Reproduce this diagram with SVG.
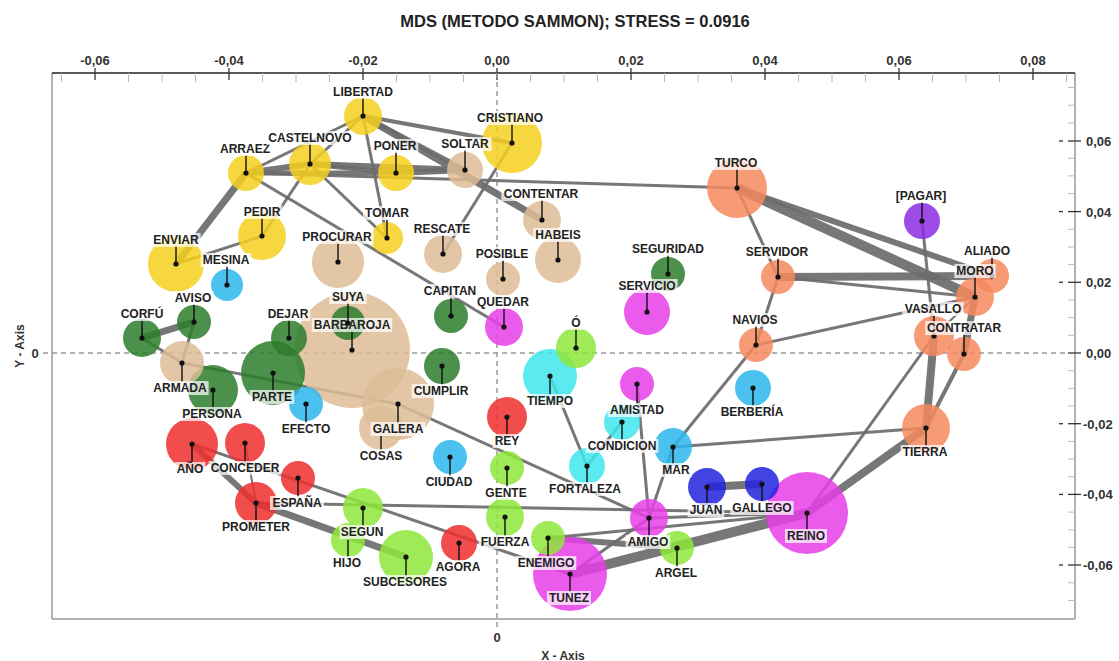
<svg xmlns="http://www.w3.org/2000/svg" width="1119" height="661" viewBox="0 0 1119 661">
<style>
.c{fill-opacity:.85}
.yel{fill:#F4D01E}.tan{fill:#DDBC95}.grn{fill:#2B7D2B}.lbl{fill:#2CB6EC}.cyn{fill:#40E6EE}.mag{fill:#E63EE8}.red{fill:#EF2E2E}.lgr{fill:#8EE63A}.blu{fill:#2222DD}.pur{fill:#8B2BE2}.org{fill:#F68A5E}
#connectors line{stroke:#6b6b6b;stroke-opacity:.92}
.w2{stroke-width:2}.w3{stroke-width:3}.w4{stroke-width:4}.w5{stroke-width:5}.w6{stroke-width:6}.w7{stroke-width:7}.w8{stroke-width:8}.w10{stroke-width:10}
.ptr{stroke:#111;stroke-width:1.4}
.dot{fill:#111}
.lb{fill:#fff;fill-opacity:.72}
.lt{font-family:"Liberation Sans",Arial,sans-serif;font-weight:bold;font-size:12px;fill:#222;text-anchor:middle}
.ax{font-family:"Liberation Sans",Arial,sans-serif;font-weight:bold;font-size:13px;fill:#333}
.mj{stroke:#333;stroke-width:1.3}
.mn{stroke:#bbb;stroke-width:1}
.zero{stroke:#999;stroke-width:1.5;stroke-dasharray:5 4}
</style>
<rect width="1119" height="661" fill="#fff"/>
<text x="575" y="27" font-family="Liberation Sans, Arial, sans-serif" font-weight="bold" font-size="16.5" fill="#222" text-anchor="middle">MDS (METODO SAMMON); STRESS = 0.0916</text>

<g id="axes">
<line x1="52" y1="73" x2="52" y2="619" stroke="#999" stroke-width="1.5"/>
<line x1="52" y1="619" x2="1075" y2="619" stroke="#999" stroke-width="1.5"/>
<line x1="1075" y1="73" x2="1075" y2="619" stroke="#999" stroke-width="1.5"/>
<line x1="52" y1="73" x2="1075" y2="73" stroke="#222" stroke-width="1.5"/>
<g class="mn">
<line x1="61.5" y1="73" x2="61.5" y2="82"/><line x1="128.5" y1="73" x2="128.5" y2="82"/><line x1="162" y1="73" x2="162" y2="82"/><line x1="195.5" y1="73" x2="195.5" y2="82"/><line x1="262.5" y1="73" x2="262.5" y2="82"/><line x1="296" y1="73" x2="296" y2="82"/><line x1="329.5" y1="73" x2="329.5" y2="82"/><line x1="396.5" y1="73" x2="396.5" y2="82"/><line x1="430" y1="73" x2="430" y2="82"/><line x1="463.5" y1="73" x2="463.5" y2="82"/><line x1="530.5" y1="73" x2="530.5" y2="82"/><line x1="564" y1="73" x2="564" y2="82"/><line x1="597.5" y1="73" x2="597.5" y2="82"/><line x1="664.5" y1="73" x2="664.5" y2="82"/><line x1="698" y1="73" x2="698" y2="82"/><line x1="731.5" y1="73" x2="731.5" y2="82"/><line x1="798.5" y1="73" x2="798.5" y2="82"/><line x1="832" y1="73" x2="832" y2="82"/><line x1="865.5" y1="73" x2="865.5" y2="82"/><line x1="932.5" y1="73" x2="932.5" y2="82"/><line x1="966" y1="73" x2="966" y2="82"/><line x1="999.5" y1="73" x2="999.5" y2="82"/><line x1="1066.5" y1="73" x2="1066.5" y2="82"/>
<line x1="1068" y1="87.5" x2="1075" y2="87.5"/><line x1="1068" y1="105.2" x2="1075" y2="105.2"/><line x1="1068" y1="122.9" x2="1075" y2="122.9"/><line x1="1068" y1="158.3" x2="1075" y2="158.3"/><line x1="1068" y1="175.9" x2="1075" y2="175.9"/><line x1="1068" y1="193.6" x2="1075" y2="193.6"/><line x1="1068" y1="229.3" x2="1075" y2="229.3"/><line x1="1068" y1="247" x2="1075" y2="247"/><line x1="1068" y1="264.6" x2="1075" y2="264.6"/><line x1="1068" y1="300" x2="1075" y2="300"/><line x1="1068" y1="317.6" x2="1075" y2="317.6"/><line x1="1068" y1="335.3" x2="1075" y2="335.3"/><line x1="1068" y1="370.7" x2="1075" y2="370.7"/><line x1="1068" y1="388.4" x2="1075" y2="388.4"/><line x1="1068" y1="406" x2="1075" y2="406"/><line x1="1068" y1="441.4" x2="1075" y2="441.4"/><line x1="1068" y1="459" x2="1075" y2="459"/><line x1="1068" y1="476.7" x2="1075" y2="476.7"/><line x1="1068" y1="512.1" x2="1075" y2="512.1"/><line x1="1068" y1="529.8" x2="1075" y2="529.8"/><line x1="1068" y1="547.4" x2="1075" y2="547.4"/><line x1="1068" y1="582.8" x2="1075" y2="582.8"/><line x1="1068" y1="600.5" x2="1075" y2="600.5"/>
</g>
<g class="mj">
<line x1="95" y1="68" x2="95" y2="80"/><line x1="229" y1="68" x2="229" y2="80"/><line x1="363" y1="68" x2="363" y2="80"/><line x1="497" y1="68" x2="497" y2="80"/><line x1="631" y1="68" x2="631" y2="80"/><line x1="765" y1="68" x2="765" y2="80"/><line x1="899" y1="68" x2="899" y2="80"/><line x1="1033" y1="68" x2="1033" y2="80"/>
<line x1="1068" y1="141" x2="1081" y2="141"/><line x1="1068" y1="211.6" x2="1081" y2="211.6"/><line x1="1068" y1="282.3" x2="1081" y2="282.3"/><line x1="1068" y1="353" x2="1081" y2="353"/><line x1="1068" y1="423.7" x2="1081" y2="423.7"/><line x1="1068" y1="494.4" x2="1081" y2="494.4"/><line x1="1068" y1="565" x2="1081" y2="565"/>
<line x1="1059" y1="141" x2="1063" y2="141"/><line x1="1059" y1="211.6" x2="1063" y2="211.6"/><line x1="1059" y1="282.3" x2="1063" y2="282.3"/><line x1="1059" y1="423.7" x2="1063" y2="423.7"/><line x1="1059" y1="494.4" x2="1063" y2="494.4"/><line x1="1059" y1="565" x2="1063" y2="565"/>
</g>
<line class="zero" x1="43" y1="353" x2="1068" y2="353"/>
<line class="zero" x1="497" y1="73" x2="497" y2="628"/>
<g class="ax" text-anchor="middle">
<text x="95" y="65">-0,06</text><text x="229" y="65">-0,04</text><text x="363" y="65">-0,02</text><text x="497" y="65">0,00</text><text x="631" y="65">0,02</text><text x="765" y="65">0,04</text><text x="899" y="65">0,06</text><text x="1033" y="65">0,08</text>
</g>
<g class="ax">
<text x="1086" y="146">0,06</text><text x="1086" y="216.6">0,04</text><text x="1086" y="287.3">0,02</text><text x="1086" y="358">0,00</text><text x="1083" y="428.7">-0,02</text><text x="1083" y="499.4">-0,04</text><text x="1083" y="570">-0,06</text>
<text x="35" y="358" text-anchor="middle">0</text>
<text x="497" y="642" text-anchor="middle">0</text>
<text x="563" y="660" text-anchor="middle" font-size="12">X - Axis</text>
<text x="0" y="0" text-anchor="middle" font-size="12" transform="translate(24 346) rotate(-90)">Y - Axis</text>
</g>
</g>

<g id="connectors">
<line class="w3" x1="363" y1="116" x2="246" y2="173"/>
<line class="w3" x1="363" y1="116" x2="310" y2="164"/>
<line class="w3" x1="363" y1="116" x2="387" y2="238"/>
<line class="w4" x1="363" y1="116" x2="512" y2="143"/>
<line class="w5" x1="363" y1="116" x2="465" y2="170"/>
<line class="w7" x1="363" y1="116" x2="542" y2="220"/>
<line class="w6" x1="246" y1="173" x2="310" y2="164"/>
<line class="w5" x1="246" y1="173" x2="396" y2="173"/>
<line class="w5" x1="310" y1="164" x2="396" y2="173"/>
<line class="w6" x1="310" y1="164" x2="465" y2="170"/>
<line class="w6" x1="396" y1="173" x2="465" y2="170"/>
<line class="w3" x1="246" y1="173" x2="737" y2="188"/>
<line class="w7" x1="246" y1="173" x2="176" y2="264"/>
<line class="w3" x1="246" y1="173" x2="504" y2="327"/>
<line class="w3" x1="310" y1="164" x2="262" y2="236"/>
<line class="w3" x1="310" y1="164" x2="387" y2="238"/>
<line class="w3" x1="262" y1="236" x2="176" y2="264"/>
<line class="w3" x1="512" y1="143" x2="443" y2="254"/>
<line class="w7" x1="142" y1="338" x2="194" y2="322"/>
<line class="w3" x1="142" y1="338" x2="182" y2="363"/>
<line class="w3" x1="194" y1="322" x2="182" y2="363"/>
<line class="w3" x1="182" y1="363" x2="398" y2="404"/>
<line class="w3" x1="398" y1="404" x2="649" y2="518"/>
<line class="w6" x1="192" y1="444" x2="256" y2="503"/>
<line class="w7" x1="256" y1="503" x2="406" y2="557"/>
<line class="w3" x1="192" y1="444" x2="570" y2="574"/>
<line class="w3" x1="256" y1="503" x2="807" y2="513"/>
<line class="w2" x1="245" y1="443" x2="256" y2="503"/>
<line class="w3" x1="550" y1="376" x2="587" y2="466"/>
<line class="w3" x1="587" y1="466" x2="622" y2="422"/>
<line class="w3" x1="637" y1="384" x2="649" y2="518"/>
<line class="w3" x1="673" y1="447" x2="649" y2="518"/>
<line class="w3" x1="673" y1="447" x2="756" y2="345"/>
<line class="w3" x1="673" y1="447" x2="926" y2="428"/>
<line class="w3" x1="570" y1="574" x2="649" y2="518"/>
<line class="w10" x1="570" y1="574" x2="807" y2="513"/>
<line class="w6" x1="548" y1="538" x2="677" y2="548"/>
<line class="w3" x1="548" y1="538" x2="807" y2="513"/>
<line class="w3" x1="649" y1="518" x2="807" y2="513"/>
<line class="w8" x1="707" y1="487" x2="762" y2="484"/>
<line class="w10" x1="737" y1="188" x2="975" y2="297"/>
<line class="w6" x1="737" y1="188" x2="992" y2="276"/>
<line class="w3" x1="737" y1="188" x2="778" y2="277"/>
<line class="w8" x1="778" y1="277" x2="992" y2="276"/>
<line class="w3" x1="778" y1="277" x2="975" y2="297"/>
<line class="w3" x1="778" y1="277" x2="756" y2="345"/>
<line class="w3" x1="756" y1="345" x2="975" y2="297"/>
<line class="w3" x1="922" y1="221" x2="934" y2="336"/>
<line class="w7" x1="975" y1="297" x2="964" y2="354"/>
<line class="w8" x1="934" y1="336" x2="926" y2="428"/>
<line class="w4" x1="964" y1="354" x2="926" y2="428"/>
<line class="w3" x1="807" y1="513" x2="934" y2="336"/>
<line class="w8" x1="807" y1="513" x2="926" y2="428"/>
<line class="w2" x1="934" y1="336" x2="975" y2="297"/>
</g>

<g id="nodes">
<g id="n-barbaroja"><circle class="c tan" cx="352" cy="350" r="58"/></g>
<g id="n-reino"><circle class="c mag" cx="807" cy="513" r="41"/></g>
<g id="n-tunez"><circle class="c mag" cx="570" cy="574" r="37"/></g>
<g id="n-galera"><circle class="c tan" cx="398" cy="404" r="36"/></g>
<g id="n-cosas"><circle class="c tan" cx="381" cy="428" r="22"/></g>
<g id="n-parte"><circle class="c grn" cx="273" cy="373" r="32"/></g>
<g id="n-cristiano"><circle class="c yel" cx="512" cy="143" r="30"/></g>
<g id="n-turco"><circle class="c org" cx="737" cy="188" r="30"/></g>
<g id="n-enviar"><circle class="c yel" cx="176" cy="264" r="28"/></g>
<g id="n-tiempo"><circle class="c cyn" cx="550" cy="376" r="27"/></g>
<g id="n-subcesores"><circle class="c lgr" cx="406" cy="557" r="27"/></g>
<g id="n-procurar"><circle class="c tan" cx="338" cy="262" r="26"/></g>
<g id="n-ano"><circle class="c red" cx="192" cy="444" r="26"/></g>
<g id="n-persona"><circle class="c grn" cx="213" cy="390" r="25"/></g>
<g id="n-pedir"><circle class="c yel" cx="262" cy="236" r="24"/></g>
<g id="n-tierra"><circle class="c org" cx="926" cy="428" r="24"/></g>
<g id="n-habeis"><circle class="c tan" cx="558" cy="260" r="23"/></g>
<g id="n-servicio"><circle class="c mag" cx="647" cy="312" r="23"/></g>
<g id="n-armada"><circle class="c tan" cx="182" cy="363" r="22"/></g>
<g id="n-castelnovo"><circle class="c yel" cx="310" cy="164" r="21"/></g>
<g id="n-prometer"><circle class="c red" cx="256" cy="503" r="21"/></g>
<g id="n-vasallo"><circle class="c org" cx="934" cy="336" r="20"/></g>
<g id="n-rey"><circle class="c red" cx="507" cy="417" r="20"/></g>
<g id="n-conceder"><circle class="c red" cx="245" cy="443" r="20"/></g>
<g id="n-o"><circle class="c lgr" cx="576" cy="348" r="20"/></g>
<g id="n-hijo"><circle class="c lgr" cx="348" cy="540" r="17"/></g>
<g id="n-segun"><circle class="c lgr" cx="363" cy="508" r="20"/></g>
<g id="n-libertad"><circle class="c yel" cx="363" cy="116" r="19"/></g>
<g id="n-contentar"><circle class="c tan" cx="542" cy="220" r="19"/></g>
<g id="n-rescate"><circle class="c tan" cx="443" cy="254" r="19"/></g>
<g id="n-corfu"><circle class="c grn" cx="142" cy="338" r="19"/></g>
<g id="n-mar"><circle class="c lbl" cx="673" cy="447" r="19"/></g>
<g id="n-quedar"><circle class="c mag" cx="504" cy="327" r="19"/></g>
<g id="n-amigo"><circle class="c mag" cx="649" cy="518" r="19"/></g>
<g id="n-fuerza"><circle class="c lgr" cx="505" cy="517" r="19"/></g>
<g id="n-juan"><circle class="c blu" cx="707" cy="487" r="19"/></g>
<g id="n-aliado"><circle class="c org" cx="992" cy="276" r="17"/></g>
<g id="n-moro"><circle class="c org" cx="975" cy="297" r="19"/></g>
<g id="n-arraez"><circle class="c yel" cx="246" cy="173" r="18"/></g>
<g id="n-poner"><circle class="c yel" cx="396" cy="173" r="18"/></g>
<g id="n-soltar"><circle class="c tan" cx="465" cy="170" r="18"/></g>
<g id="n-cumplir"><circle class="c grn" cx="442" cy="366" r="18"/></g>
<g id="n-dejar"><circle class="c grn" cx="289" cy="338" r="18"/></g>
<g id="n-berberia"><circle class="c lbl" cx="753" cy="388" r="18"/></g>
<g id="n-condicion"><circle class="c cyn" cx="622" cy="422" r="18"/></g>
<g id="n-fortaleza"><circle class="c cyn" cx="587" cy="466" r="18"/></g>
<g id="n-agora"><circle class="c red" cx="459" cy="543" r="18"/></g>
<g id="n-pagar"><circle class="c pur" cx="922" cy="221" r="18"/></g>
<g id="n-tomar"><circle class="c yel" cx="387" cy="238" r="16"/></g>
<g id="n-posible"><circle class="c tan" cx="503" cy="279" r="17"/></g>
<g id="n-seguridad"><circle class="c grn" cx="668" cy="274" r="17"/></g>
<g id="n-capitan"><circle class="c grn" cx="451" cy="316" r="17"/></g>
<g id="n-aviso"><circle class="c grn" cx="194" cy="322" r="17"/></g>
<g id="n-suya"><circle class="c grn" cx="348" cy="323" r="17"/></g>
<g id="n-mesina"><circle class="c lbl" cx="227" cy="285" r="16"/></g>
<g id="n-efecto"><circle class="c lbl" cx="306" cy="404" r="17"/></g>
<g id="n-ciudad"><circle class="c lbl" cx="450" cy="457" r="17"/></g>
<g id="n-amistad"><circle class="c mag" cx="637" cy="384" r="17"/></g>
<g id="n-espana"><circle class="c red" cx="298" cy="478" r="17"/></g>
<g id="n-gente"><circle class="c lgr" cx="507" cy="468" r="17"/></g>
<g id="n-enemigo"><circle class="c lgr" cx="548" cy="538" r="17"/></g>
<g id="n-argel"><circle class="c lgr" cx="677" cy="548" r="17"/></g>
<g id="n-gallego"><circle class="c blu" cx="762" cy="484" r="17"/></g>
<g id="n-servidor"><circle class="c org" cx="778" cy="277" r="17"/></g>
<g id="n-navios"><circle class="c org" cx="756" cy="345" r="17"/></g>
<g id="n-contratar"><circle class="c org" cx="964" cy="354" r="17"/></g>
</g>

<g id="labels">
<g id="l-libertad"><line class="ptr" x1="363" y1="98" x2="363" y2="116"/><circle class="dot" cx="363" cy="116" r="2.6"/><rect class="lb" x="330.6" y="85" width="64.7" height="14"/><text class="lt" x="363" y="96.3">LIBERTAD</text></g>
<g id="l-arraez"><line class="ptr" x1="246" y1="155" x2="246" y2="173"/><circle class="dot" cx="246" cy="173" r="2.6"/><rect class="lb" x="218" y="142" width="54" height="14"/><text class="lt" x="245" y="153.3">ARRAEZ</text></g>
<g id="l-castelnovo"><line class="ptr" x1="310" y1="144" x2="310" y2="164"/><circle class="dot" cx="310" cy="164" r="2.6"/><rect class="lb" x="266.3" y="131" width="87.3" height="14"/><text class="lt" x="310" y="142.3">CASTELNOVO</text></g>
<g id="l-poner"><line class="ptr" x1="396" y1="152" x2="396" y2="173"/><circle class="dot" cx="396" cy="173" r="2.6"/><rect class="lb" x="371.6" y="139" width="46.7" height="14"/><text class="lt" x="395" y="150.3">PONER</text></g>
<g id="l-cristiano"><line class="ptr" x1="512" y1="124" x2="512" y2="143"/><circle class="dot" cx="512" cy="143" r="2.6"/><rect class="lb" x="475" y="111" width="70" height="14"/><text class="lt" x="510" y="122.3">CRISTIANO</text></g>
<g id="l-soltar"><line class="ptr" x1="465" y1="150" x2="465" y2="170"/><circle class="dot" cx="465" cy="170" r="2.6"/><rect class="lb" x="438.3" y="137" width="53.3" height="14"/><text class="lt" x="465" y="148.3">SOLTAR</text></g>
<g id="l-tomar"><line class="ptr" x1="387" y1="219" x2="387" y2="238"/><circle class="dot" cx="387" cy="238" r="2.6"/><rect class="lb" x="363" y="206" width="48" height="14"/><text class="lt" x="387" y="217.3">TOMAR</text></g>
<g id="l-pedir"><line class="ptr" x1="262" y1="218" x2="262" y2="236"/><circle class="dot" cx="262" cy="236" r="2.6"/><rect class="lb" x="241.6" y="205" width="40.7" height="14"/><text class="lt" x="262" y="216.3">PEDIR</text></g>
<g id="l-enviar"><line class="ptr" x1="176" y1="246" x2="176" y2="264"/><circle class="dot" cx="176" cy="264" r="2.6"/><rect class="lb" x="151.3" y="233" width="49.3" height="14"/><text class="lt" x="176" y="244.3">ENVIAR</text></g>
<g id="l-contentar"><line class="ptr" x1="542" y1="200" x2="542" y2="220"/><circle class="dot" cx="542" cy="220" r="2.6"/><rect class="lb" x="501.3" y="187" width="79.3" height="14"/><text class="lt" x="541" y="198.3">CONTENTAR</text></g>
<g id="l-habeis"><line class="ptr" x1="558" y1="241" x2="558" y2="260"/><circle class="dot" cx="558" cy="260" r="2.6"/><rect class="lb" x="533.3" y="228" width="49.3" height="14"/><text class="lt" x="558" y="239.3">HABEIS</text></g>
<g id="l-rescate"><line class="ptr" x1="443" y1="235" x2="443" y2="254"/><circle class="dot" cx="443" cy="254" r="2.6"/><rect class="lb" x="411.3" y="222" width="61.3" height="14"/><text class="lt" x="442" y="233.3">RESCATE</text></g>
<g id="l-posible"><line class="ptr" x1="503" y1="260" x2="503" y2="279"/><circle class="dot" cx="503" cy="279" r="2.6"/><rect class="lb" x="473.6" y="247" width="56.7" height="14"/><text class="lt" x="502" y="258.3">POSIBLE</text></g>
<g id="l-procurar"><line class="ptr" x1="338" y1="243" x2="338" y2="262"/><circle class="dot" cx="338" cy="262" r="2.6"/><rect class="lb" x="300.3" y="230" width="73.3" height="14"/><text class="lt" x="337" y="241.3">PROCURAR</text></g>
<g id="l-seguridad"><line class="ptr" x1="668" y1="255" x2="668" y2="274"/><circle class="dot" cx="668" cy="274" r="2.6"/><rect class="lb" x="630" y="242" width="75.8" height="14"/><text class="lt" x="668" y="253.3">SEGURIDAD</text></g>
<g id="l-mesina"><line class="ptr" x1="227" y1="266" x2="227" y2="285"/><circle class="dot" cx="227" cy="285" r="2.6"/><rect class="lb" x="200.6" y="253" width="50.7" height="14"/><text class="lt" x="226" y="264.3">MESINA</text></g>
<g id="l-servicio"><line class="ptr" x1="647" y1="292" x2="647" y2="312"/><circle class="dot" cx="647" cy="312" r="2.6"/><rect class="lb" x="616.3" y="279" width="61.3" height="14"/><text class="lt" x="647" y="290.3">SERVICIO</text></g>
<g id="l-capitan"><line class="ptr" x1="451" y1="297" x2="451" y2="316"/><circle class="dot" cx="451" cy="316" r="2.6"/><rect class="lb" x="421.3" y="284" width="57.3" height="14"/><text class="lt" x="450" y="295.3">CAPITAN</text></g>
<g id="l-quedar"><line class="ptr" x1="504" y1="308" x2="504" y2="327"/><circle class="dot" cx="504" cy="327" r="2.6"/><rect class="lb" x="475" y="295" width="56" height="14"/><text class="lt" x="503" y="306.3">QUEDAR</text></g>
<g id="l-aviso"><line class="ptr" x1="194" y1="304" x2="194" y2="322"/><circle class="dot" cx="194" cy="322" r="2.6"/><rect class="lb" x="172.3" y="291" width="41.3" height="14"/><text class="lt" x="193" y="302.3">AVISO</text></g>
<g id="l-corfu"><line class="ptr" x1="142" y1="320" x2="142" y2="338"/><circle class="dot" cx="142" cy="338" r="2.6"/><rect class="lb" x="118.6" y="307" width="46.7" height="14"/><text class="lt" x="142" y="318.3">CORFÚ</text></g>
<g id="l-dejar"><line class="ptr" x1="289" y1="320" x2="289" y2="338"/><circle class="dot" cx="289" cy="338" r="2.6"/><rect class="lb" x="265.6" y="307" width="44.7" height="14"/><text class="lt" x="288" y="318.3">DEJAR</text></g>
<g id="l-barbaroja"><line class="ptr" x1="352" y1="331" x2="352" y2="350"/><circle class="dot" cx="352" cy="350" r="2.6"/><rect class="lb" x="311.8" y="318" width="80.4" height="14"/><text class="lt" x="352" y="329.3">BARBAROJA</text></g>
<g id="l-suya"><line class="ptr" x1="348" y1="303" x2="348" y2="323"/><circle class="dot" cx="348" cy="323" r="2.6"/><rect class="lb" x="329.3" y="290" width="37.3" height="14"/><text class="lt" x="348" y="301.3">SUYA</text></g>
<g id="l-o"><line class="ptr" x1="576" y1="329" x2="576" y2="348"/><circle class="dot" cx="576" cy="348" r="2.6"/><rect class="lb" x="569.3" y="316" width="13.3" height="14"/><text class="lt" x="576" y="327.3">Ó</text></g>
<g id="l-pagar"><line class="ptr" x1="922" y1="202" x2="922" y2="221"/><circle class="dot" cx="922" cy="221" r="2.6"/><rect class="lb" x="893.3" y="189" width="55.3" height="14"/><text class="lt" x="921" y="200.3">[PAGAR]</text></g>
<g id="l-turco"><line class="ptr" x1="737" y1="169" x2="737" y2="188"/><circle class="dot" cx="737" cy="188" r="2.6"/><rect class="lb" x="712.6" y="156" width="46.7" height="14"/><text class="lt" x="736" y="167.3">TURCO</text></g>
<g id="l-servidor"><line class="ptr" x1="778" y1="258" x2="778" y2="277"/><circle class="dot" cx="778" cy="277" r="2.6"/><rect class="lb" x="743.6" y="245" width="66.7" height="14"/><text class="lt" x="777" y="256.3">SERVIDOR</text></g>
<g id="l-navios"><line class="ptr" x1="756" y1="326" x2="756" y2="345"/><circle class="dot" cx="756" cy="345" r="2.6"/><rect class="lb" x="730" y="313" width="50" height="14"/><text class="lt" x="755" y="324.3">NAVIOS</text></g>
<g id="l-aliado"><line class="ptr" x1="992" y1="257" x2="992" y2="276"/><circle class="dot" cx="992" cy="276" r="2.6"/><rect class="lb" x="962" y="244" width="50" height="14"/><text class="lt" x="987" y="255.3">ALIADO</text></g>
<g id="l-moro"><line class="ptr" x1="975" y1="277" x2="975" y2="297"/><circle class="dot" cx="975" cy="297" r="2.6"/><rect class="lb" x="954.3" y="264" width="41.3" height="14"/><text class="lt" x="975" y="275.3">MORO</text></g>
<g id="l-vasallo"><line class="ptr" x1="934" y1="315" x2="934" y2="336"/><circle class="dot" cx="934" cy="336" r="2.6"/><rect class="lb" x="902.3" y="302" width="61.3" height="14"/><text class="lt" x="933" y="313.3">VASALLO</text></g>
<g id="l-contratar"><line class="ptr" x1="964" y1="334" x2="964" y2="354"/><circle class="dot" cx="964" cy="354" r="2.6"/><rect class="lb" x="925.2" y="321" width="77.6" height="14"/><text class="lt" x="964" y="332.3">CONTRATAR</text></g>

<g id="l-galera"><line class="ptr" x1="398" y1="404" x2="398" y2="423"/><circle class="dot" cx="398" cy="404" r="2.6"/><rect class="lb" x="370.6" y="422" width="54.7" height="14"/><text class="lt" x="398" y="433.3">GALERA</text></g>
<g id="l-cosas"><line class="ptr" x1="381" y1="436" x2="381" y2="450"/><rect class="lb" x="357.6" y="449" width="46.7" height="14"/><text class="lt" x="381" y="460.3">COSAS</text></g>
<g id="l-armada"><line class="ptr" x1="182" y1="363" x2="182" y2="382"/><circle class="dot" cx="182" cy="363" r="2.6"/><rect class="lb" x="151.3" y="381" width="57.3" height="14"/><text class="lt" x="180" y="392.3">ARMADA</text></g>
<g id="l-persona"><line class="ptr" x1="213" y1="390" x2="213" y2="408"/><circle class="dot" cx="213" cy="390" r="2.6"/><rect class="lb" x="180.3" y="407" width="63.3" height="14"/><text class="lt" x="212" y="418.3">PERSONA</text></g>
<g id="l-parte"><line class="ptr" x1="273" y1="373" x2="273" y2="391"/><circle class="dot" cx="273" cy="373" r="2.6"/><rect class="lb" x="249.6" y="390" width="44.7" height="14"/><text class="lt" x="272" y="401.3">PARTE</text></g>
<g id="l-cumplir"><line class="ptr" x1="442" y1="366" x2="442" y2="385"/><circle class="dot" cx="442" cy="366" r="2.6"/><rect class="lb" x="411.6" y="384" width="58.7" height="14"/><text class="lt" x="441" y="395.3">CUMPLIR</text></g>
<g id="l-efecto"><line class="ptr" x1="306" y1="404" x2="306" y2="423"/><circle class="dot" cx="306" cy="404" r="2.6"/><rect class="lb" x="279.6" y="422" width="52.7" height="14"/><text class="lt" x="306" y="433.3">EFECTO</text></g>
<g id="l-ciudad"><line class="ptr" x1="450" y1="457" x2="450" y2="476"/><circle class="dot" cx="450" cy="457" r="2.6"/><rect class="lb" x="423.6" y="475" width="50.7" height="14"/><text class="lt" x="449" y="486.3">CIUDAD</text></g>
<g id="l-berberia"><line class="ptr" x1="753" y1="388" x2="753" y2="406"/><circle class="dot" cx="753" cy="388" r="2.6"/><rect class="lb" x="718.6" y="405" width="66.7" height="14"/><text class="lt" x="752" y="416.3">BERBERÍA</text></g>
<g id="l-tiempo"><line class="ptr" x1="550" y1="376" x2="550" y2="395"/><circle class="dot" cx="550" cy="376" r="2.6"/><rect class="lb" x="525" y="394" width="50" height="14"/><text class="lt" x="550" y="405.3">TIEMPO</text></g>
<g id="l-amistad"><line class="ptr" x1="637" y1="384" x2="637" y2="404"/><circle class="dot" cx="637" cy="384" r="2.6"/><rect class="lb" x="607.6" y="403" width="58.7" height="14"/><text class="lt" x="637" y="414.3">AMISTAD</text></g>
<g id="l-rey"><line class="ptr" x1="507" y1="417" x2="507" y2="435"/><circle class="dot" cx="507" cy="417" r="2.6"/><rect class="lb" x="492.6" y="434" width="28.7" height="14"/><text class="lt" x="507" y="445.3">REY</text></g>
<g id="l-condicion"><line class="ptr" x1="622" y1="422" x2="622" y2="440"/><circle class="dot" cx="622" cy="422" r="2.6"/><rect class="lb" x="585.6" y="439" width="72.7" height="14"/><text class="lt" x="622" y="450.3">CONDICION</text></g>
<g id="l-mar"><line class="ptr" x1="673" y1="447" x2="673" y2="464"/><circle class="dot" cx="673" cy="447" r="2.6"/><rect class="lb" x="660.3" y="463" width="31.3" height="14"/><text class="lt" x="676" y="474.3">MAR</text></g>
<g id="l-tierra"><line class="ptr" x1="926" y1="428" x2="926" y2="446"/><circle class="dot" cx="926" cy="428" r="2.6"/><rect class="lb" x="900.6" y="445" width="48.7" height="14"/><text class="lt" x="925" y="456.3">TIERRA</text></g>
<g id="l-ano"><line class="ptr" x1="192" y1="444" x2="192" y2="463"/><circle class="dot" cx="192" cy="444" r="2.6"/><rect class="lb" x="174.6" y="462" width="30.7" height="14"/><text class="lt" x="190" y="473.3">AÑO</text></g>
<g id="l-conceder"><line class="ptr" x1="245" y1="443" x2="245" y2="462"/><circle class="dot" cx="245" cy="443" r="2.6"/><rect class="lb" x="208.6" y="461" width="72.7" height="14"/><text class="lt" x="245" y="472.3">CONCEDER</text></g>
<g id="l-gente"><line class="ptr" x1="507" y1="468" x2="507" y2="487"/><circle class="dot" cx="507" cy="468" r="2.6"/><rect class="lb" x="483.3" y="486" width="45.3" height="14"/><text class="lt" x="506" y="497.3">GENTE</text></g>
<g id="l-fortaleza"><line class="ptr" x1="587" y1="466" x2="587" y2="483"/><circle class="dot" cx="587" cy="466" r="2.6"/><rect class="lb" x="546.6" y="482" width="76.7" height="14"/><text class="lt" x="585" y="493.3">FORTALEZA</text></g>
<g id="l-espana"><line class="ptr" x1="298" y1="478" x2="298" y2="497"/><circle class="dot" cx="298" cy="478" r="2.6"/><rect class="lb" x="270" y="496" width="54" height="14"/><text class="lt" x="297" y="507.3">ESPAÑA</text></g>
<g id="l-juan"><line class="ptr" x1="707" y1="487" x2="707" y2="504"/><circle class="dot" cx="707" cy="487" r="2.6"/><rect class="lb" x="687.6" y="503" width="36.7" height="14"/><text class="lt" x="706" y="514.3">JUAN</text></g>
<g id="l-gallego"><line class="ptr" x1="762" y1="484" x2="762" y2="502"/><circle class="dot" cx="762" cy="484" r="2.6"/><rect class="lb" x="730.3" y="501" width="63.3" height="14"/><text class="lt" x="762" y="512.3">GALLEGO</text></g>
<g id="l-prometer"><line class="ptr" x1="256" y1="503" x2="256" y2="521"/><circle class="dot" cx="256" cy="503" r="2.6"/><rect class="lb" x="220" y="520" width="72" height="14"/><text class="lt" x="256" y="531.3">PROMETER</text></g>
<g id="l-reino"><line class="ptr" x1="807" y1="513" x2="807" y2="530"/><circle class="dot" cx="807" cy="513" r="2.6"/><rect class="lb" x="785" y="529" width="42" height="14"/><text class="lt" x="806" y="540.3">REINO</text></g>
<g id="l-hijo"><line class="ptr" x1="348" y1="540" x2="348" y2="557"/><rect class="lb" x="331" y="556" width="32" height="14"/><text class="lt" x="347" y="567.3">HIJO</text></g>
<g id="l-segun"><line class="ptr" x1="363" y1="508" x2="363" y2="526"/><circle class="dot" cx="363" cy="508" r="2.6"/><rect class="lb" x="339.6" y="525" width="46.7" height="14"/><text class="lt" x="362" y="536.3">SEGUN</text></g>
<g id="l-fuerza"><line class="ptr" x1="505" y1="517" x2="505" y2="536"/><circle class="dot" cx="505" cy="517" r="2.6"/><rect class="lb" x="478.6" y="535" width="52.7" height="14"/><text class="lt" x="505" y="546.3">FUERZA</text></g>
<g id="l-amigo"><line class="ptr" x1="649" y1="518" x2="649" y2="536"/><circle class="dot" cx="649" cy="518" r="2.6"/><rect class="lb" x="625.6" y="535" width="44.7" height="14"/><text class="lt" x="648" y="546.3">AMIGO</text></g>
<g id="l-enemigo"><line class="ptr" x1="548" y1="538" x2="548" y2="557"/><circle class="dot" cx="548" cy="538" r="2.6"/><rect class="lb" x="515.6" y="556" width="60.7" height="14"/><text class="lt" x="546" y="567.3">ENEMIGO</text></g>
<g id="l-agora"><line class="ptr" x1="459" y1="543" x2="459" y2="561"/><circle class="dot" cx="459" cy="543" r="2.6"/><rect class="lb" x="433.6" y="560" width="48.7" height="14"/><text class="lt" x="458" y="571.3">AGORA</text></g>
<g id="l-argel"><line class="ptr" x1="677" y1="548" x2="677" y2="567"/><circle class="dot" cx="677" cy="548" r="2.6"/><rect class="lb" x="653" y="566" width="46" height="14"/><text class="lt" x="676" y="577.3">ARGEL</text></g>
<g id="l-subcesores"><line class="ptr" x1="406" y1="557" x2="406" y2="576"/><circle class="dot" cx="406" cy="557" r="2.6"/><rect class="lb" x="361" y="575" width="88" height="14"/><text class="lt" x="405" y="586.3">SUBCESORES</text></g>
<g id="l-tunez"><line class="ptr" x1="570" y1="574" x2="570" y2="592"/><circle class="dot" cx="570" cy="574" r="2.6"/><rect class="lb" x="547" y="591" width="44" height="14"/><text class="lt" x="569" y="602.3">TUNEZ</text></g>
</g>
</svg>
